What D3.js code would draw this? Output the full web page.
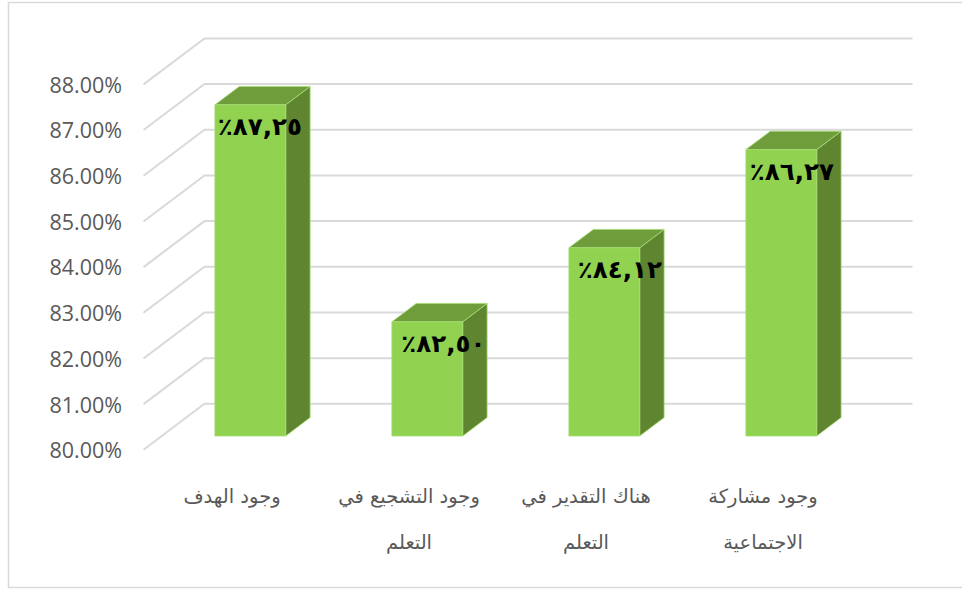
<!DOCTYPE html>
<html lang="ar">
<head>
<meta charset="utf-8">
<script src="https://cdn.jsdelivr.net/npm/d3@7"></script>
<style>
html,body{margin:0;padding:0;background:#fff;overflow:hidden}
svg{display:block}
.tick-label{font-family:"Open Sans","Noto Sans",sans-serif;font-size:21.5px;fill:#595959}
.cat-label{font-family:"DejaVu Serif","DejaVu Sans",serif;font-size:19.5px;fill:#595959}
.val-label{font-family:"DejaVu Sans",sans-serif;font-size:24.5px;font-weight:bold;fill:#000}
</style>
</head>
<body>
<svg id="chart" width="962" height="590"></svg>
<script>
const categories = ["وجود الهدف", "وجود التشجيع في التعلم", "هناك التقدير في التعلم", "وجود مشاركة الاجتماعية"];
const categoryLines = [["وجود الهدف"], ["وجود التشجيع في", "التعلم"], ["هناك التقدير في", "التعلم"], ["وجود مشاركة", "الاجتماعية"]];
const values = [87.25, 82.50, 84.12, 86.27];
const tickValues = [80, 81, 82, 83, 84, 85, 86, 87, 88];

const svg = d3.select("#chart");
const colors = {front:"#91D250", top:"#6F9D3C", side:"#5F8531", grid:"#D9D9D9", edge:"#A6DC72"};

// oblique projection: depth 0 = front of the wall, depth 1 = back wall
const x = d3.scaleBand().domain(categories).range([143.5, 851.5]).paddingInner(0.6).paddingOuter(0.3);
const y = d3.scaleLinear().domain([80, 88]).range([449.8, 84.4]);
const depthX = d3.scaleLinear().domain([0, 1]).range([0, 61]);
const depthY = d3.scaleLinear().domain([0, 1]).range([0, -46]);
const barFront = 0.3, barBack = 0.7;
const px = (v, d) => v + depthX(d), py = (v, d) => y(v) + depthY(d);

// chart border
svg.append("rect").attr("x", 8.5).attr("y", 2.5).attr("width", 980).attr("height", 585)
  .attr("fill", "#fff").attr("stroke", colors.grid).attr("stroke-width", 1.5);

// gridlines
const grid = svg.append("g").attr("fill", "none").attr("stroke", colors.grid).attr("stroke-width", 2);
grid.selectAll("polyline").data(tickValues).join("polyline")
  .attr("points", t => [[143.5, py(t, 0)], [px(143.5, 1), py(t, 1)], [px(851.5, 1), py(t, 1)]].join(" "));

// bars
const rows = categories.map((c, i) => ({c, v: values[i], lines: categoryLines[i], i}));
const poly = pts => pts.map(p => p.join(",")).join(" ");
const bars = svg.append("g").selectAll("g").data(rows).join("g")
  .attr("stroke", colors.edge).attr("stroke-width", 0.8).attr("stroke-linejoin", "round");
bars.append("polygon").attr("fill", colors.side).attr("points", d => {
  const r = x(d.c) + x.bandwidth();
  return poly([[px(r, barFront), py(80, barFront)], [px(r, barBack), py(80, barBack)],
               [px(r, barBack), py(d.v, barBack)], [px(r, barFront), py(d.v, barFront)]]);
});
bars.append("polygon").attr("fill", colors.top).attr("points", d => {
  const l = x(d.c), r = l + x.bandwidth();
  return poly([[px(l, barFront), py(d.v, barFront)], [px(l, barBack), py(d.v, barBack)],
               [px(r, barBack), py(d.v, barBack)], [px(r, barFront), py(d.v, barFront)]]);
});
bars.append("polygon").attr("fill", colors.front).attr("points", d => {
  const l = x(d.c), r = l + x.bandwidth();
  return poly([[px(l, barFront), py(80, barFront)], [px(l, barFront), py(d.v, barFront)],
               [px(r, barFront), py(d.v, barFront)], [px(r, barFront), py(80, barFront)]]);
});

// value labels (the middle two sit a little further right in the reference)
const labelShift = [9.5, 16, 15.5, 10.5];
const arabicDigits = s => s.replace(/\d/g, c => "٠١٢٣٤٥٦٧٨٩"[+c]);
svg.append("g").selectAll("text").data(rows).join("text")
  .attr("class", "val-label")
  .attr("direction", "rtl")
  .attr("text-anchor", "middle")
  .attr("x", d => px(x(d.c) + x.bandwidth() / 2, barFront) + labelShift[d.i])
  .attr("y", d => py(d.v, barFront) + 30)
  .text(d => arabicDigits(d.v.toFixed(2).replace(".", ",")) + "٪");

// value axis
const axis = svg.append("g").attr("transform", "translate(122,1)")
  .call(d3.axisLeft(y).tickValues(tickValues).tickSize(0).tickPadding(0).tickFormat(t => d3.format(".2f")(t) + "%"));
axis.select(".domain").remove();
axis.selectAll("text").attr("class", "tick-label").attr("font-family", null).attr("font-size", null);

// category labels
const cats = svg.append("g").selectAll("text").data(rows).join("text")
  .attr("class", "cat-label").attr("direction", "rtl").attr("text-anchor", "middle");
cats.selectAll("tspan").data(d => d.lines.map(t => ({t, c: d.c}))).join("tspan")
  .attr("x", d => x(d.c) + x.bandwidth() / 2)
  .attr("y", (d, i) => 503 + i * 46)
  .text(d => d.t);
</script>
</body>
</html>
